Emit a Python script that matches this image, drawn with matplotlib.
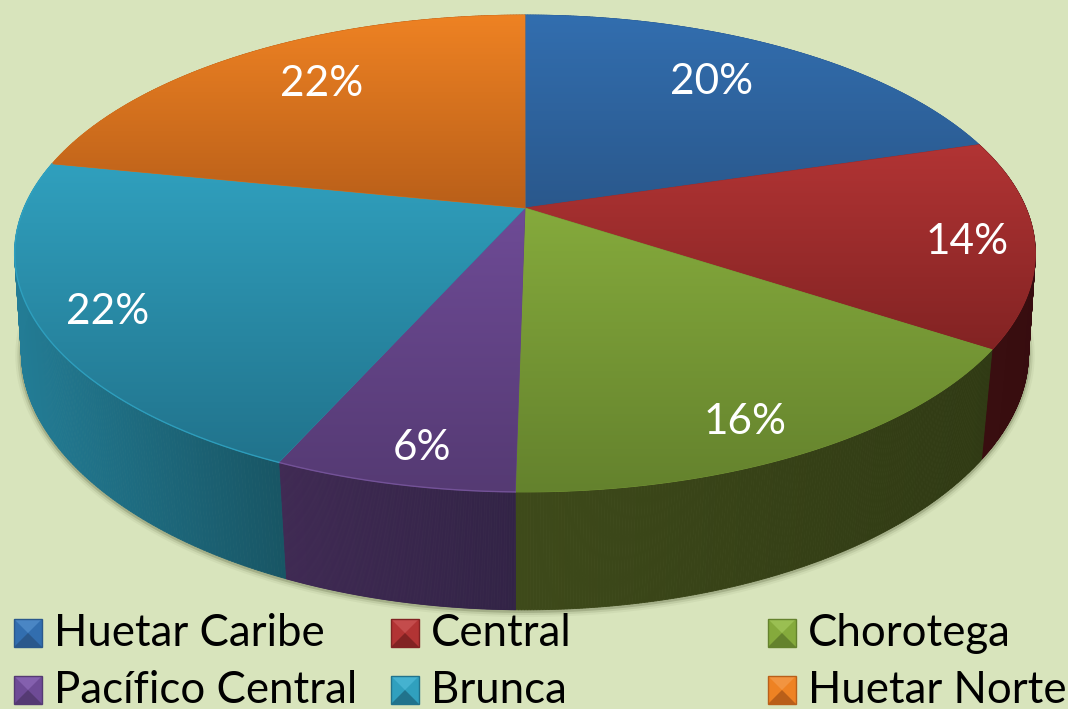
import numpy as np
import matplotlib
matplotlib.use('Agg')
import matplotlib.pyplot as plt
from matplotlib.collections import PolyCollection
from matplotlib.patches import Polygon, Rectangle

## Data (slightly off the printed % so the slice edges land right)
regions = ['Huetar Caribe', 'Central', 'Chorotega', 'Pacífico Central', 'Brunca', 'Huetar Norte']
shares = [20.3, 14.0, 15.95, 6.4, 21.55, 21.8]

## Colours: gradient top, gradient bottom, side left, side right
top_light = ['#326eaf', '#b23434', '#85aa3c', '#6e4b96', '#30a0be', '#ee8223']
top_dark = ['#2a588c', '#822323', '#64822d', '#553a73', '#21738c', '#b95f19']
side_left = ['#2a588c', '#3a0f10', '#3e4a1a', '#402a54', '#237d96', '#b95f19']
side_right = ['#2a588c', '#370c0f', '#303a14', '#322346', '#185564', '#b95f19']
rim = ['#3a78bb', '#8c2a2a', '#7a9c38', '#7a58a0', '#30a5c5', '#ee8223']
rim_width = [0, 0, 0, 1.0, 1.0, 0]
key_light = ['#4a86c4', '#c44c4c', '#9abf52', '#8460ae', '#45b2d0', '#f29440']

label_pos = [(712, 82), (967, 242), (745, 422), (422, 448), (108, 312), (322, 84)]
legend_x = [14, 391, 768]
legend_y = [619, 676]

bg = '#d8e4bc'


## Projection of the unit circle to picture pixels, perspective tilt
def project(angle):
    x, y = np.sin(angle), np.cos(angle)
    den = 1 + 0.1908 * y
    return 525 + 501 * x / den, (208 - 190.1 * y) / den


def lower(angle):
    px, py = project(angle)
    scale = 0.972 + 0.016 * np.sin(angle) ** 6
    return 525 + (px - 525) * scale, 1.055 * py + 90.8


def hex2rgb(c):
    return np.array(matplotlib.colors.to_rgb(c))


def gradient_fill(ax, verts, c1, c2, zorder=3):
    verts = np.array(verts)
    x0, x1 = verts[:, 0].min(), verts[:, 0].max()
    y0, y1 = verts[:, 1].min(), verts[:, 1].max()
    # solid underlay, otherwise the clip edge lets the background through
    mid = (hex2rgb(c1) + hex2rgb(c2)) / 2
    ax.add_patch(Polygon(verts, closed=True, fc=mid, ec=mid, lw=0.6, zorder=zorder))
    t = np.linspace(0, 1, 256)[:, None]
    img = hex2rgb(c1)[None, :] * (1 - t) + hex2rgb(c2)[None, :] * t
    im = ax.imshow(img[:, None, :], extent=(x0, x1, y1, y0), aspect='auto', zorder=zorder,
                   interpolation='bilinear')
    patch = Polygon(verts, closed=True, transform=ax.transData, fc='none', ec='none')
    ax.add_patch(patch)
    im.set_clip_path(patch)
    return im


def side_strips(ax, a, c1, c2, zorder=2):
    # one quad per step, a plain outline polygon would miss the silhouette past the tangent
    tx, ty = project(a)
    bx, by = lower(a)
    quads = []
    cols = []
    lo, hi = min(tx.min(), bx.min()), max(tx.max(), bx.max())
    for k in range(len(a) - 1):
        quads.append([(tx[k], ty[k]), (tx[k + 1], ty[k + 1]), (bx[k + 1], by[k + 1]), (bx[k], by[k])])
        t = ((tx[k] + bx[k]) / 2 - lo) / (hi - lo)
        cols.append(hex2rgb(c1) * (1 - t) + hex2rgb(c2) * t)
    ax.add_collection(PolyCollection(quads, facecolors=cols, edgecolors=cols, linewidths=0.6, zorder=zorder))


fig = plt.figure(figsize=(10.68, 7.09), dpi=100, facecolor=bg)
ax = fig.add_axes([0, 0, 1, 1])
ax.set_facecolor(bg)

edges = np.cumsum([0] + shares) / sum(shares) * 2 * np.pi

## Soft shadow below the bottom rim
a = np.linspace(np.pi * 0.40, np.pi * 1.62, 300)
sx, sy = lower(a)
for lw, al in [(9, 0.05), (6, 0.10), (3, 0.20)]:
    ax.plot(sx, sy + 1, color='#38401f', lw=lw, alpha=al, zorder=1, solid_capstyle='round')

## Sides first, the top faces go over them
for i in range(len(shares)):
    a = np.linspace(edges[i], edges[i + 1], 200)
    side_strips(ax, a, side_left[i], side_right[i])

for i in range(len(shares)):
    a = np.linspace(edges[i], edges[i + 1], 200)
    tx, ty = project(a)
    verts = np.column_stack([np.r_[525, tx], np.r_[208, ty]])
    gradient_fill(ax, verts, top_light[i], top_dark[i])
    if rim_width[i] > 0:
        ax.plot(tx, ty, color=rim[i], lw=rim_width[i], alpha=0.8, zorder=4)
    pct = '{0}%'.format(int(round(shares[i] / sum(shares) * 100)))
    ax.text(label_pos[i][0], label_pos[i][1], pct, color='white', fontsize=30.5, family='Lato',
            ha='center', va='center', zorder=6)

## Legend, three columns, bevelled keys
for i, name in enumerate(regions):
    x = legend_x[i % 3]
    y = legend_y[i // 3]
    s = 28
    ax.add_patch(Rectangle((x, y), s, s, fc=top_light[i], ec='none', zorder=5))
    c = (x + s / 2, y + s / 2)
    ax.add_patch(Polygon([(x, y), (x + s, y), c], fc=key_light[i], ec='none', zorder=5))
    ax.add_patch(Polygon([(x, y + s), (x + s, y + s), c], fc=top_dark[i], ec='none', zorder=5))
    ax.add_patch(Rectangle((x, y), s, s, fc='none', ec=top_dark[i], lw=1, zorder=5))
    ax.text(x + 40, y + 27, name, color='black', fontsize=31.5, family='Lato', ha='left',
            va='baseline', zorder=6)

ax.set_xlim(0, 1068)
ax.set_ylim(709, 0)
ax.axis('off')
fig.savefig('out.png', dpi=100, facecolor=bg)
